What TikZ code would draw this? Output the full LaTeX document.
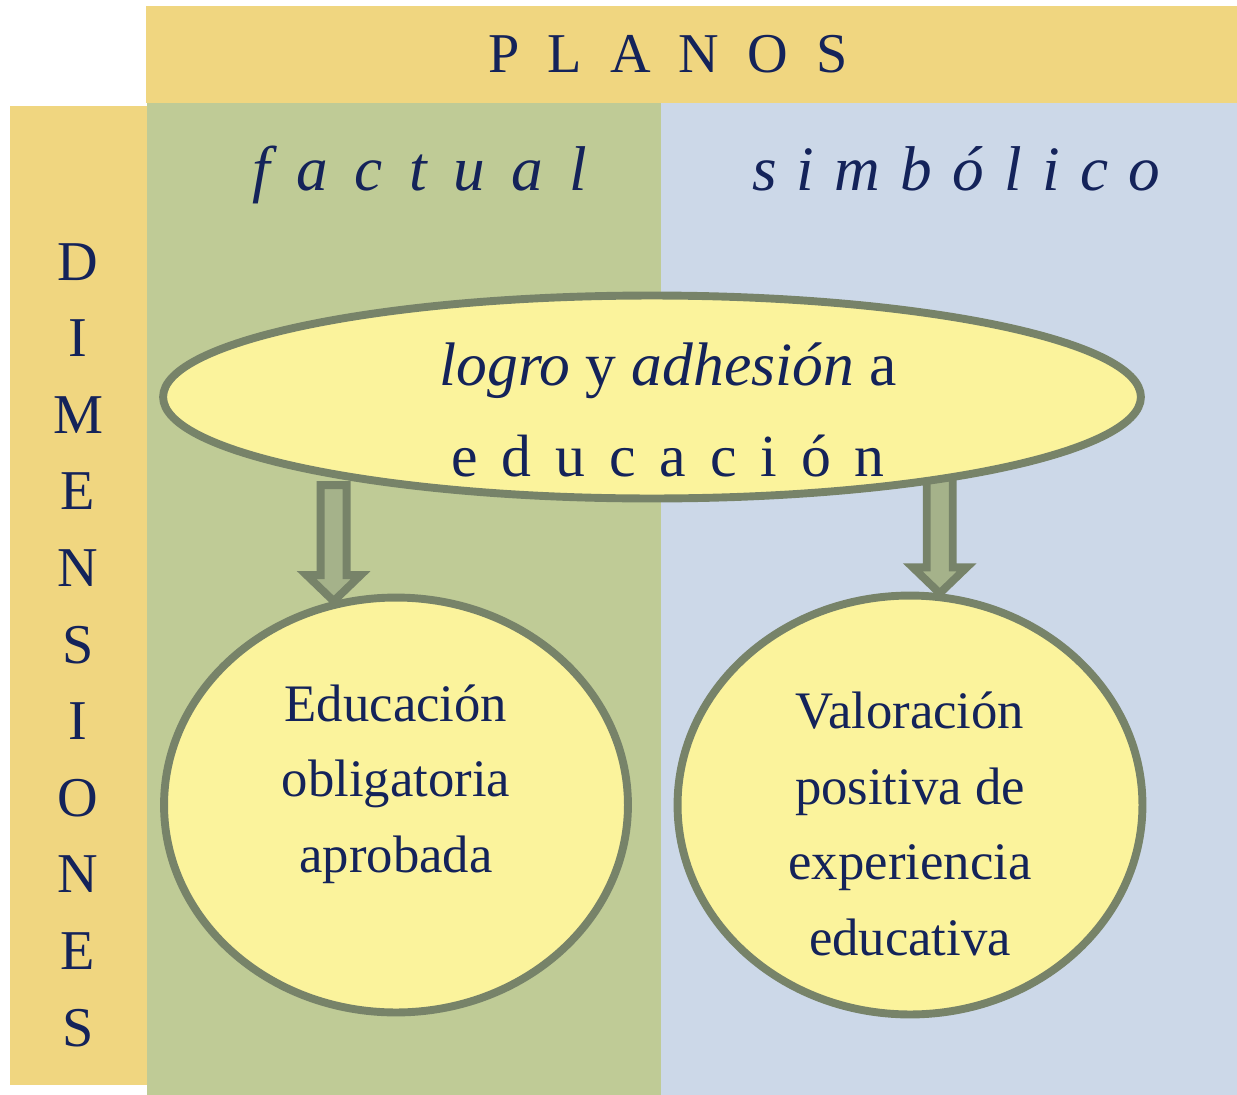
\documentclass[tikz,border=0pt]{standalone}
\usepackage{fontspec}
\setmainfont{Liberation Serif}
\usepackage{xcolor}
\definecolor{barcol}{HTML}{F0D680}
\definecolor{factcol}{HTML}{BFCB96}
\definecolor{simbcol}{HTML}{CCD8E8}
\definecolor{ovalcol}{HTML}{FBF39C}
\definecolor{rimcol}{HTML}{778369}
\definecolor{shaftcol}{HTML}{A5B28A}
\definecolor{inkcol}{HTML}{14235A}
\tikzset{
  >=latex,
}
\tikzstyle{bubble}=[ellipse,draw=rimcol,fill=ovalcol,line width=4.5pt,inner sep=0pt]
\tikzstyle{fatarrow}=[draw=rimcol,fill=shaftcol,line width=4.5pt,line join=miter]
\tikzstyle{every node}=[text=inkcol]
\usetikzlibrary{shapes.geometric,backgrounds,calc}
\newcommand{\gap}[1][.42em]{\hspace{#1}}

\begin{document}
\begin{tikzpicture}[x=0.02cm,y=-0.02cm]
      \useasboundingbox (0,0) rectangle (1237,1095);
      % ovals
      \node[bubble,minimum width=19.56cm,minimum height=4.06cm] (logro) at (652,397) {};
      \node[bubble,minimum width=9.28cm,minimum height=8.3cm] (edu) at (396,805) {};
      \node[bubble,minimum width=9.3cm,minimum height=8.38cm] (val) at (910,805) {};
      \node[align=center,font=\fontsize{34}{52}\selectfont] (logrotxt) at (668,410)
        {{\fontsize{35}{52}\selectfont\textit{logro} y \textit{adhesión} a}\\
         e\gap[.4em]d\gap[.4em]u\gap[.4em]c\gap[.4em]a\gap[.4em]c\gap[.4em]i\gap[.4em]ó\gap[.4em]n};
      \node[align=center,font=\fontsize{30}{43}\selectfont] (edutxt) at ($(edu)+(0,-21)$)
        {Educación\\obligatoria\\aprobada};
      \node[align=center,font=\fontsize{30}{43}\selectfont] (valtxt) at ($(val)+(0,19)$)
        {Valoración\\positiva de\\experiencia\\educativa};
      % headings
      \node[anchor=base,font=\fontsize{32}{40}\selectfont] (planos) at (668,72)
        {P\gap[.5em]L\gap[.5em]A\gap[.5em]N\gap[.5em]O\gap[.5em]S};
      \node[anchor=base,font=\fontsize{36}{40}\selectfont\itshape] (factual) at (420,190)
        {f\gap a\gap c\gap t\gap u\gap a\gap l};
      \node[anchor=base,font=\fontsize{36}{40}\selectfont\itshape] (simbolico) at (956,190)
        {s\gap[.32em]i\gap[.32em]m\gap[.32em]b\gap[.32em]ó\gap[.32em]l\gap[.32em]i\gap[.32em]c\gap[.32em]o};
      \node[align=center,font=\fontsize{32}{43.6}\selectfont] (dim) at (78,645)
        {D\\I\\M\\E\\N\\S\\I\\O\\N\\E\\S};
      \begin{scope}[on background layer]
        \fill[barcol] (146,6) rectangle (1237,103);
        \fill[barcol] (10,106) rectangle (147,1085);
        \fill[factcol] (147,103) rectangle (661,1095);
        \fill[simbcol] (661,103) rectangle (1237,1095);
        % arrows
        \draw[fatarrow] (edu.107) -- ++(-27,-26) -- ++(14,0) -- ++(0,-90)
          -- ++(26,0) -- ++(0,90) -- ++(14,0) -- cycle;
        \draw[fatarrow] (val.82) -- ++(-27,-26) -- ++(14,0) -- ++(0,-90)
          -- ++(26,0) -- ++(0,90) -- ++(14,0) -- cycle;
      \end{scope}
\end{tikzpicture}
\end{document}
